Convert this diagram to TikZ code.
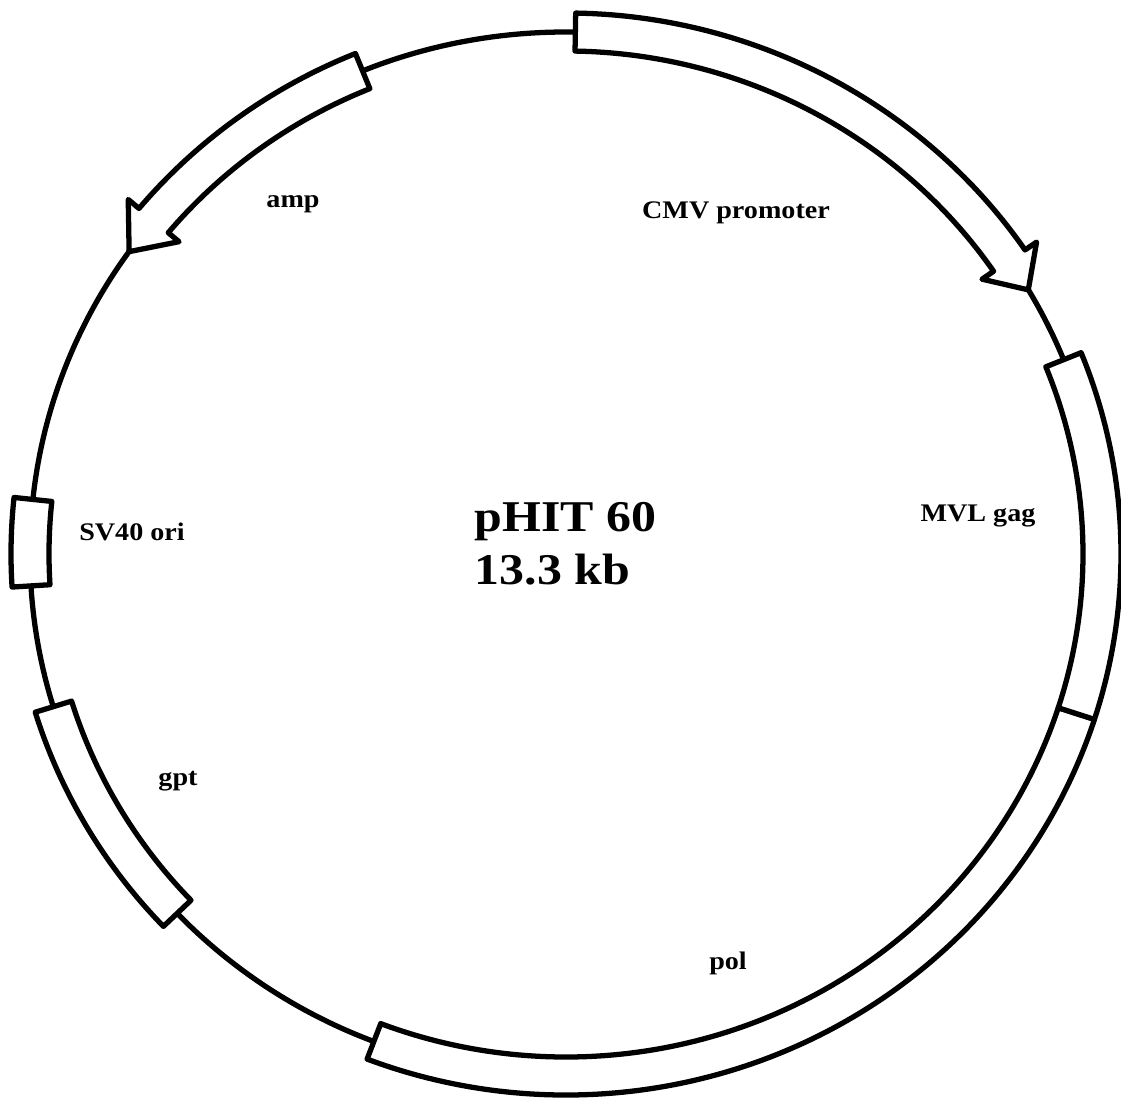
\documentclass[tikz,border=0pt]{standalone}
\usepackage{fontspec}
\setmainfont{Liberation Serif}
\usepackage{tikz}

\newcommand{\genebox}[2]{\draw [part] (#1:5.55 and 5.41) arc [start angle=#1, end angle=#2, x radius=5.55, y radius=5.41] -- (#2:5.17 and 5.03) arc [start angle=#2, end angle=#1, x radius=5.17, y radius=5.03] -- cycle;}
\newcommand{\genearrow}[3]{\draw [part] (#1:5.55 and 5.41) arc [start angle=#1, end angle=#2, x radius=5.55, y radius=5.41] -- (#2:5.69 and 5.55) -- (#3:5.36 and 5.22) -- (#2:5.03 and 4.89) -- (#2:5.17 and 5.03) arc [start angle=#2, end angle=#1, x radius=5.17, y radius=5.03] -- cycle;}

\begin{document}
\begin{tikzpicture}[line width=1.5pt, line join=round,
	part/.style={draw,black,fill=white},
	tag/.style={font=\fontsize{8}{9}\selectfont\bfseries,inner sep=0pt,anchor=base,yscale=0.9},
	big/.style={font=\fontsize{14.2}{16}\selectfont\bfseries,inner sep=0pt,anchor=base west,yscale=0.88}]

	\useasboundingbox (-5.66,-5.48) rectangle (5.55,5.54);

	\draw (0,0) ellipse [x radius=5.36, y radius=5.22];

	\genearrow{89}{34.2}{30.4}
	\genearrow{112.3}{140.3}{144.6}

	\genebox{174}{183.5}
	\genebox{197}{223.5}
	\genebox{249}{342.2}
	\genebox{342.2}{381.85}


	\node [name=amp,tag] at (-2.73,3.47) {amp};
	\node [name=cmv,tag] at (1.70,3.36) {CMV promoter};
	\node [name=gag,tag] at (4.12,0.33) {MVL gag};
	\node [name=sv40,tag] at (-4.34,0.14) {SV40 ori};
	\node [name=gpt,tag] at (-3.88,-2.31) {gpt};
	\node [name=pol,tag] at (1.62,-4.15) {pol};

	\node [name=plasmid,big] at (-0.94,0.23) {pHIT 60};
	\node [name=size,big] at (-0.94,-0.30) {13.3 kb};

\end{tikzpicture}
\end{document}
